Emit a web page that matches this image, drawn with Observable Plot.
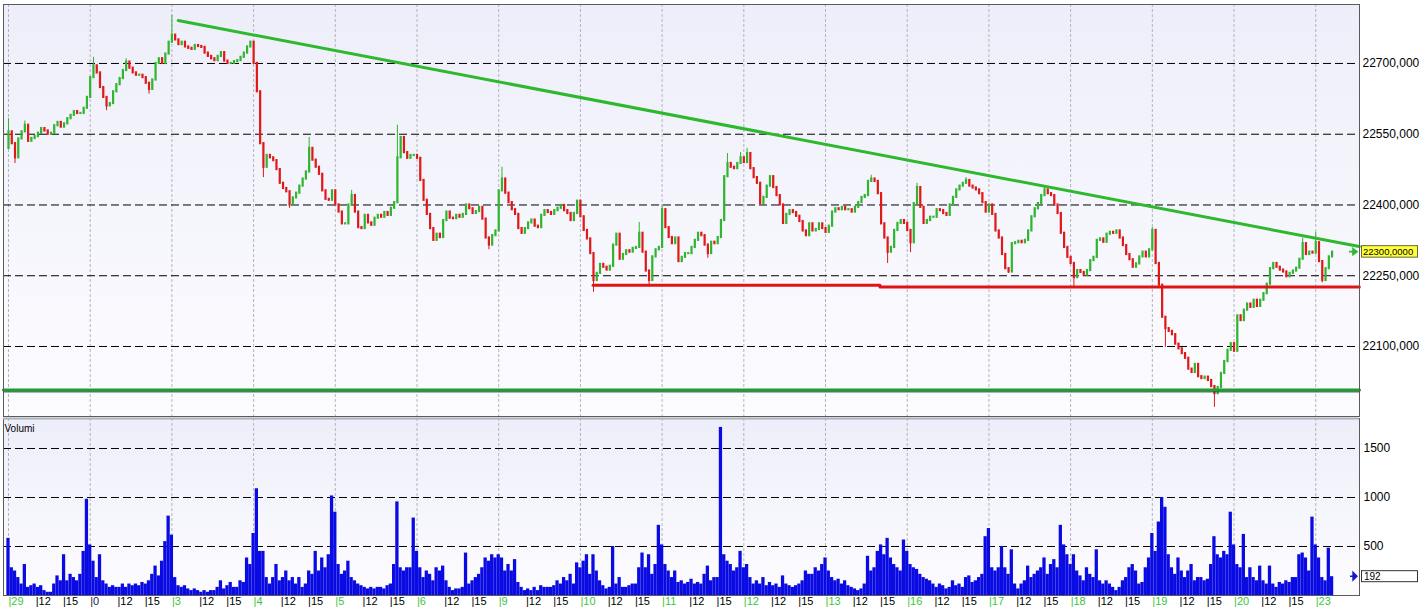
<!DOCTYPE html>
<html><head><meta charset="utf-8">
<script src="https://cdn.jsdelivr.net/npm/d3@7"></script>
<script src="https://cdn.jsdelivr.net/npm/@observablehq/plot@0.6"></script>
<style>
body{margin:0;background:#fff;}
#chart{width:1420px;height:611px;overflow:hidden;position:relative;}
#chart svg{display:block;}
</style></head><body><div id="chart"></div>
<script>
// ---------- DATA ----------
const dayLabels = ["29","0","3","4","5","6","9","10","11","12","13","16","17","18","19","20","23"];
const hourLabels = ["12","15"];
const darkDayLabels = ["0"];
const priceTicks = [22100, 22250, 22400, 22550, 22700];
const volumeTicks = [500, 1000, 1500];

const firstOpen = 22520;
const closes = [
 [22555,22530,22500,22540,22555,22569,22535,22541,22545,22552,22562,22557,22550,22552,22568,22575,22565,22572,22583,22590,22598,22594,22594,22605,22628],
 [22670,22695,22680,22649,22628,22610,22615,22640,22655,22668,22685,22703,22690,22680,22675,22675,22670,22658,22645,22665,22700,22710,22700,22720,22745],
 [22760,22750,22740,22745,22735,22732,22730,22738,22736,22734,22722,22715,22710,22706,22715,22723,22705,22700,22700,22704,22706,22713,22722,22735,22745],
 [22700,22640,22530,22480,22505,22500,22494,22475,22446,22435,22428,22400,22415,22425,22440,22455,22470,22520,22495,22480,22465,22430,22412,22410,22430],
 [22400,22385,22360,22360,22400,22420,22385,22352,22350,22378,22362,22357,22372,22378,22374,22384,22378,22393,22405,22500,22543,22511,22499,22505,22505],
 [22499,22452,22410,22380,22350,22325,22338,22331,22367,22385,22372,22371,22378,22374,22380,22400,22392,22382,22386,22395,22370,22330,22315,22335,22345],
 [22430,22455,22425,22405,22390,22380,22350,22340,22350,22362,22368,22355,22352,22378,22388,22384,22380,22388,22393,22399,22388,22382,22367,22382,22408],
 [22375,22346,22328,22297,22240,22255,22274,22268,22262,22270,22315,22338,22285,22295,22303,22300,22308,22310,22340,22300,22260,22240,22290,22305,22310],
 [22390,22352,22331,22318,22330,22280,22289,22297,22297,22310,22325,22340,22335,22315,22297,22321,22318,22331,22367,22460,22488,22480,22477,22488,22500],
 [22490,22509,22477,22458,22446,22403,22416,22440,22460,22437,22420,22400,22361,22380,22388,22384,22376,22365,22345,22335,22360,22345,22348,22360,22350],
 [22342,22355,22385,22392,22390,22395,22390,22390,22385,22395,22405,22416,22420,22450,22455,22450,22424,22360,22330,22300,22310,22346,22361,22367,22361],
 [22346,22320,22403,22437,22395,22361,22367,22374,22374,22390,22388,22382,22378,22400,22416,22432,22440,22446,22452,22440,22436,22432,22424,22405,22385],
 [22400,22380,22345,22330,22295,22265,22258,22318,22320,22323,22320,22325,22345,22375,22392,22403,22420,22432,22424,22420,22400,22382,22340,22310,22289],
 [22276,22246,22261,22257,22251,22261,22282,22289,22325,22328,22321,22338,22342,22340,22345,22330,22314,22295,22284,22268,22275,22290,22300,22290,22305],
 [22346,22276,22230,22162,22138,22132,22125,22105,22095,22085,22075,22052,22045,22062,22036,22032,22035,22028,22015,22000,22013,22043,22068,22092,22106],
 [22090,22165,22155,22177,22190,22183,22198,22185,22198,22212,22232,22265,22276,22268,22262,22258,22248,22255,22260,22266,22285,22318,22295,22300,22298],
 [22320,22280,22240,22265,22290,22300]
];
const volumes = [
 [583,283,250,183,117,316,83,100,117,83,100,50,33,33,117,200,150,416,150,216,183,150,216,450,982],
 [516,350,183,416,150,117,83,100,83,83,117,83,117,100,117,100,133,117,150,216,300,200,350,550,810],
 [616,183,100,83,100,67,50,67,50,33,50,33,50,50,83,150,67,100,133,83,83,150,133,383,316],
 [633,1089,450,450,183,117,183,316,150,183,250,150,183,117,183,83,117,250,216,450,250,383,283,416,1016],
 [850,316,216,250,350,183,150,117,100,83,67,83,67,83,83,67,100,117,316,955,283,250,283,283,790],
 [450,283,183,250,216,150,283,250,300,150,83,50,67,67,83,433,117,150,183,216,283,383,350,416,383],
 [416,383,250,316,250,366,133,83,50,67,50,83,50,100,83,83,83,100,150,117,183,150,216,117,333],
 [283,350,416,216,416,250,150,100,67,83,500,117,183,83,83,100,117,117,283,433,283,416,216,316,716],
 [516,316,250,183,250,133,150,117,133,166,117,133,117,216,300,150,183,183,1715,416,350,316,250,283,450],
 [283,316,183,117,150,117,183,100,133,100,117,83,200,117,100,83,100,117,150,250,216,216,283,250,316],
 [383,250,183,150,166,117,150,100,83,67,50,67,117,400,250,283,450,516,416,583,383,316,283,250,566],
 [450,316,283,266,216,183,166,150,117,83,117,100,67,83,150,100,117,83,183,200,133,150,183,216,600],
 [683,283,250,283,500,283,216,466,117,67,117,150,300,183,216,250,283,383,216,316,366,283,716,516,416],
 [316,416,250,200,150,283,216,183,466,150,117,150,117,83,50,83,150,183,283,316,250,117,133,283,383],
 [633,450,750,1000,900,416,283,216,383,250,183,250,316,150,183,183,150,166,316,600,416,383,450,416,850],
 [516,316,283,623,183,283,183,150,300,150,117,300,117,83,133,117,150,133,183,183,416,433,383,250,800],
 [516,383,183,150,483,192]
];
// wick extremes: [day, bar, value]
const wickHighs = [[0,0,22583],[0,5,22578],[1,1,22713],[1,11,22710],[2,0,22802],[3,17,22543],[4,5,22431],[4,19,22569],
 [6,1,22480],[7,18,22363],[8,0,22400],[8,20,22509],[8,24,22511],[9,1,22520],[10,14,22463],[11,3,22446],[11,18,22458],
 [12,17,22437],[14,0,22352],[15,21,22330],[16,0,22342]];
const wickLows = [[0,2,22488],[1,5,22600],[1,18,22635],[3,3,22458],[3,11,22393],[5,22,22305],[7,4,22215],[7,21,22229],
 [8,14,22287],[10,19,22276],[11,1,22299],[12,6,22255],[13,1,22223],[14,4,22098],[14,19,21971],[16,2,22235]];

// drawn lines (hours since first session open, price)
const trendLine = [{t: 18.7, price: 22791}, {t: 148.8, price: 22312}];
const resistance1 = [{t: 64.4, price: 22230}, {t: 96.0, price: 22230}];
const resistance2 = [{t: 96.0, price: 22226}, {t: 148.8, price: 22226}];
const supportLine = [{t: -0.55, price: 22008}, {t: 148.82, price: 22008}];

// ---------- BUILD ----------
const HOURS_PER_DAY = 9, BAR_HOURS = 0.36;
const xDomain = [-0.55, 148.82];
const bars = [];
let prev = firstOpen;
closes.forEach((day, d) => day.forEach((c, j) => {
  bars.push({key: d + "-" + j, t: d * HOURS_PER_DAY + j * BAR_HOURS, open: prev, close: c,
    high: Math.max(prev, c), low: Math.min(prev, c), volume: volumes[d][j]});
  prev = c;
}));
const byKey = new Map(bars.map(b => [b.key, b]));
wickHighs.forEach(([d, j, v]) => { const b = byKey.get(d + "-" + j); if (b) b.high = Math.max(b.high, v); });
wickLows.forEach(([d, j, v]) => { const b = byKey.get(d + "-" + j); if (b) b.low = Math.min(b.low, v); });
const up = bars.filter(b => b.close >= b.open), down = bars.filter(b => b.close < b.open);

const dayTicks = dayLabels.map((l, d) => d * HOURS_PER_DAY);
const xTicks = [];
dayLabels.forEach((l, d) => {
  xTicks.push({t: d * HOURS_PER_DAY, label: "|" + l, kind: darkDayLabels.includes(l) ? "dark" : "day"});
  if (d < dayLabels.length - 1) hourLabels.forEach((h, k) => xTicks.push({t: d * HOURS_PER_DAY + 3 * (k + 1), label: "|" + h, kind: "hour"}));
});

const UP = "#2fb52f", DOWN = "#e01818";
const fmtPrice = v => d3.format(".4f")(v).replace(".", ",");
const fmtAxis = v => d3.format(".3f")(v).replace(".", ",");
const FONT = "Liberation Sans, Arial, sans-serif";

const price = Plot.plot({
  width: 1420, height: 417, marginLeft: 3, marginRight: 61, marginTop: 4, marginBottom: 1,
  style: {background: "#fff", fontFamily: FONT, fontSize: "12px", color: "#000"},
  x: {domain: xDomain, axis: null},
  y: {domain: [21951.6, 22825], axis: null},
  marks: [
    Plot.frame({fill: "url(#pbg)"}),
    Plot.ruleX(dayTicks, {stroke: "#b4b4bc", strokeDasharray: "3,2"}),
    Plot.ruleY(priceTicks, {stroke: "#000", strokeDasharray: "8,4"}),
    Plot.ruleX(up, {x: "t", y1: "low", y2: "high", stroke: UP, strokeWidth: 1}),
    Plot.ruleX(down, {x: "t", y1: "low", y2: "high", stroke: DOWN, strokeWidth: 1}),
    Plot.ruleX(up, {x: "t", y1: "open", y2: "close", stroke: UP, strokeWidth: 2.2, strokeLinecap: "square"}),
    Plot.ruleX(down, {x: "t", y1: "open", y2: "close", stroke: DOWN, strokeWidth: 2.2, strokeLinecap: "square"}),
    Plot.line(trendLine, {x: "t", y: "price", stroke: "#2db82d", strokeWidth: 3}),
    Plot.line(resistance1, {x: "t", y: "price", stroke: "#e01414", strokeWidth: 3}),
    Plot.line(resistance2, {x: "t", y: "price", stroke: "#e01414", strokeWidth: 3}),
    Plot.line(supportLine, {x: "t", y: "price", stroke: "#1f9e2a", strokeWidth: 3}),
    Plot.line(supportLine, {x: "t", y: "price", stroke: "#1d4f45", strokeWidth: 1, dy: 2}),
    Plot.frame({stroke: "#5a5a5a"}),
    Plot.axisY({anchor: "right", ticks: priceTicks, tickSize: 0, tickPadding: 3, tickFormat: fmtAxis, fontSize: 12, fill: "#000", label: null})
  ]
});
d3.select(price).insert("defs", ":first-child").html(
  '<linearGradient id="pbg" x1="0" y1="0" x2="0" y2="1"><stop offset="0" stop-color="#eeeefa"/><stop offset="1" stop-color="#fcfcff"/></linearGradient>');

const vol = Plot.plot({
  width: 1420, height: 194, marginLeft: 3, marginRight: 61, marginTop: 1, marginBottom: 16,
  style: {background: "#fff", fontFamily: FONT, fontSize: "12px", color: "#000"},
  x: {domain: xDomain, axis: null},
  y: {domain: [0, 1806], axis: null},
  marks: [
    Plot.frame({fill: "url(#vbg)"}),
    Plot.ruleX(dayTicks, {stroke: "#b4b4bc", strokeDasharray: "3,2"}),
    Plot.ruleY(volumeTicks, {stroke: "#000", strokeDasharray: "8,4"}),
    Plot.rect(bars, {x1: d => d.t - BAR_HOURS / 2, x2: d => d.t + BAR_HOURS / 2, y1: 0, y2: "volume", fill: "#0a0ae2"}),
    Plot.frame({stroke: "#5a5a5a"}),
    Plot.ruleY([1806], {stroke: "#a8b0b8", strokeWidth: 2}),
    Plot.axisY({anchor: "right", ticks: volumeTicks, tickSize: 0, tickPadding: 4, tickFormat: d => String(d), fontSize: 12, fill: "#000", label: null}),
    Plot.text(["Volumi"], {frameAnchor: "top-left", dx: 1, dy: 6, fontSize: 10, fill: "#000"}),
    Plot.text(xTicks, {x: "t", frameAnchor: "bottom", dy: 9, text: "label", textAnchor: "start", fontSize: 11,
      fill: d => d.kind === "day" ? "#3cc43c" : d.kind === "dark" ? "#1a1a4a" : "#000"})
  ]
});
d3.select(vol).insert("defs", ":first-child").html(
  '<linearGradient id="vbg" x1="0" y1="0" x2="0" y2="1"><stop offset="0" stop-color="#eeeefa"/><stop offset="1" stop-color="#fcfcff"/></linearGradient>');

// last value markers
const plotRight = 1420 - 61;
const last = bars[bars.length - 1];
{
  const yy = price.scale("y").apply(last.close);
  const s = d3.select(price);
  s.append("path").attr("d", `M${plotRight - 10},${yy}H${plotRight - 3}M${plotRight - 6},${yy - 3}L${plotRight - 2},${yy}L${plotRight - 6},${yy + 3}Z`)
    .attr("stroke", "#2db82d").attr("stroke-width", 1.6).attr("fill", "#2db82d");
  s.append("rect").attr("x", plotRight + 2.5).attr("y", yy - 6).attr("width", 56).attr("height", 11.5)
    .attr("fill", "#ffff3c").attr("stroke", "#6a6a30");
  s.append("text").attr("x", plotRight + 4).attr("y", yy).attr("dy", "0.35em").attr("font-size", 9.5)
    .attr("text-anchor", "start").attr("font-family", FONT).attr("fill", "#000").text(fmtPrice(last.close));
}
{
  const yy = vol.scale("y").apply(last.volume);
  const s = d3.select(vol);
  s.append("path").attr("d", `M${plotRight - 9},${yy}H${plotRight - 3}M${plotRight - 6},${yy - 4}L${plotRight - 2},${yy}L${plotRight - 6},${yy + 4}Z`)
    .attr("stroke", "#1818c8").attr("stroke-width", 1.4).attr("fill", "#1818c8");
  s.append("rect").attr("x", plotRight + 2.5).attr("y", yy - 5.5).attr("width", 56).attr("height", 11)
    .attr("fill", "#fff").attr("stroke", "#333");
  s.append("text").attr("x", plotRight + 5).attr("y", yy).attr("dy", "0.35em").attr("font-size", 10)
    .attr("text-anchor", "start").attr("font-family", FONT).attr("fill", "#000").text(String(last.volume));
}

document.getElementById("chart").append(price, vol);
</script>
</body></html>
